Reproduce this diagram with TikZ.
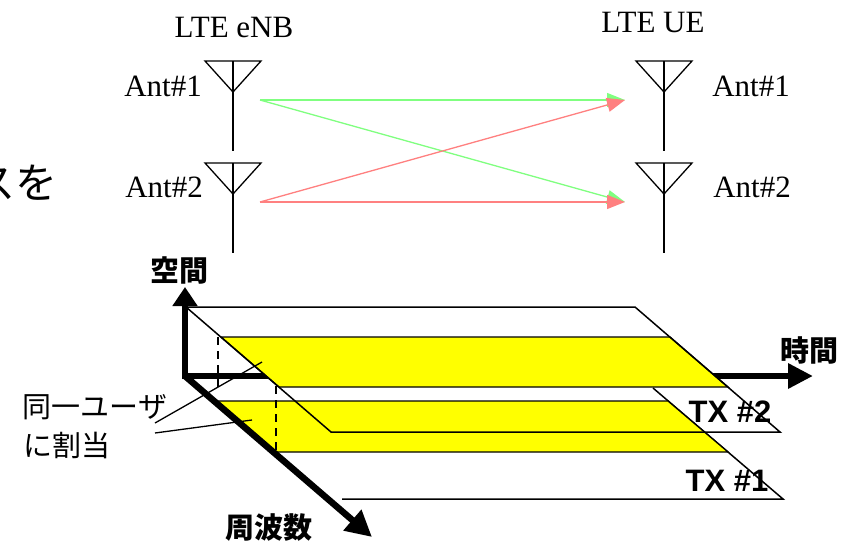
\documentclass[tikz,border=0pt]{standalone}
\usepackage{fontspec}
\setmainfont{Liberation Serif}
\newfontfamily\jp{Noto Sans CJK JP}
\newfontfamily\arial{Liberation Sans}
\usetikzlibrary{arrows.meta}
\definecolor{sgreen}{RGB}{128,255,128}
\definecolor{sred}{RGB}{255,128,128}
\definecolor{bandyellow}{RGB}{255,255,0}
\tikzset{
  serif/.style={font=\fontsize{31}{36}\selectfont, inner sep=0pt},
  axislbl/.style={font=\jp\bfseries\fontsize{29}{33}\selectfont, inner sep=0pt},
  jplbl/.style={font=\jp\fontsize{29}{33}\selectfont, inner sep=0pt},
  txlbl/.style={font=\arial\bfseries\fontsize{31}{36}\selectfont, inner sep=0pt},
  sigG/.style={draw=sgreen, line width=1.3pt, -{Triangle[length=18pt,width=14pt]}},
  sigR/.style={draw=sred, line width=1.3pt, -{Triangle[length=18pt,width=14pt]}},
  planeedge/.style={draw=black, line width=1.5pt},
  band/.style={fill=bandyellow, draw=black, line width=1.3pt},
  axisline/.style={line width=6.5pt, draw=black},
  pointer/.style={draw=black, line width=1.3pt},
  dashline/.style={draw=black, line width=1.5pt, dash pattern=on 8pt off 6pt},
  antenna/.pic={
    \draw[line width=1.3pt, line join=miter] (-28,0) -- (28,0) -- (0,31) -- cycle;
    \draw[line width=1.3pt] (0,0) -- (0,90);
  }
}
\begin{document}
\begin{tikzpicture}[x=1pt,y=-1pt]
\clip (0,0) rectangle (852,544);
\fill[white] (0,0) rectangle (852,544);

% cut-off text at left edge
\node[font=\jp\fontsize{42}{46}\selectfont, inner sep=0pt, anchor=east] (frag) at (58,183) {スを};

% titles
\node[serif] (enb) at (234,27) {LTE eNB};
\node[serif] (ue) at (653,22) {LTE UE};

% antennas
\pic (eant1) at (233,61) {antenna};
\pic (eant2) at (233,163) {antenna};
\pic (uant1) at (664,61) {antenna};
\pic (uant2) at (664,163) {antenna};
\node[serif] (el1) at (163,86) {Ant\#1};
\node[serif] (el2) at (164,187) {Ant\#2};
\node[serif] (ul1) at (751,86) {Ant\#1};
\node[serif] (ul2) at (752,187) {Ant\#2};

% signal paths
\coordinate (eA1) at (260,100);
\coordinate (eA2) at (260,202);
\coordinate (uA1) at (625,100);
\coordinate (uA2) at (625,202);
\draw[sigG] (eA1) -- (uA1);
\draw[sigG] (eA1) -- (uA2);
\draw[sigR] (eA2) -- (uA1);
\draw[sigR] (eA2) -- (uA2);

% lower plane (TX #1)
\fill[white] (212,388) -- (653,388) -- (783,499) -- (342,499) -- cycle;
\draw[planeedge] (653,388) -- (783,499) -- (342,499);
\draw[band] (215,401) -- (668,401) -- (728,452) -- (274,452) -- cycle;

% time axis (under upper yellow band)
\coordinate (O) at (185,376);
\coordinate (Oh) at (182,376);
\coordinate (tT) at (813,376);
\draw[axisline, -{Triangle[length=25pt,width=24pt]}] (Oh) -- (tT);

% upper plane (TX #2)
\draw[band] (221,337) -- (670,337) -- (728,387) -- (279,387) -- cycle;
\draw[planeedge] (186,307) -- (635,307) -- (780,432) -- (331,432) -- cycle;

% dashed projections
\draw[dashline] (218,337) -- (218,388);
\draw[dashline] (276,386) -- (276,450);

% space and frequency axes
\coordinate (Ov) at (185,379);
\coordinate (sT) at (185,287);
\coordinate (fT) at (372,537);
\draw[axisline, -{Triangle[length=26pt,width=26pt]}] (O) -- (fT);
\draw[axisline, -{Triangle[length=19pt,width=24pt]}] (Ov) -- (sT);

% pointer lines
\coordinate (p1a) at (155,423);
\coordinate (p1b) at (262,362);
\coordinate (p2a) at (155,433);
\coordinate (p2b) at (252,420);
\draw[pointer] (p1a) -- (p1b);
\draw[pointer] (p2a) -- (p2b);

% labels
\node[axislbl] (space) at (179,270) {空間};
\node[axislbl] (time) at (809,350) {時間};
\node[axislbl] (freq) at (269,528) {周波数};
\node[jplbl] (same) at (95,407) {同一ユーザ};
\node[jplbl] (alloc) at (67,445) {に割当};
\node[txlbl] (tx2) at (730,412) {TX \#2};
\node[txlbl] (tx1) at (727,481) {TX \#1};
\end{tikzpicture}
\end{document}
